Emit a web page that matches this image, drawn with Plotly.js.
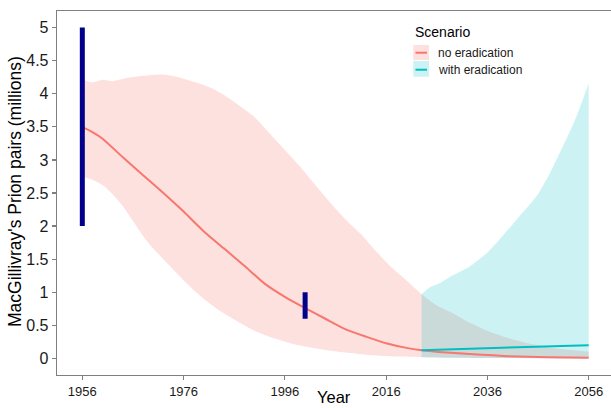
<!DOCTYPE html>
<html>
<head>
<meta charset="utf-8">
<script src="https://cdn.plot.ly/plotly-3.0.1.min.js"></script>
<style>
html,body{margin:0;padding:0;overflow:hidden;background:#fff;}
#chart{width:620px;height:408px;}
</style>
</head>
<body>
<div id="chart"></div>
<script>
// ---- data ----
// No eradication scenario
const noYearsMed = [1956,1958,1960,1964,1968,1972,1976,1980,1984,1988,1992,1996,2000,2004,2008,2012,2016,2020,2023,2028,2034,2040,2048,2056];
const noMedian   = [3.50,3.42,3.32,3.04,2.77,2.50,2.22,1.92,1.66,1.40,1.13,0.93,0.76,0.60,0.44,0.33,0.23,0.16,0.125,0.09,0.06,0.035,0.02,0.01];

const noYearsUp  = [1956,1958,1960,1962,1965,1968,1972,1975,1978,1981,1984,1987,1990,1993,1996,1999,2002,2005,2008,2011,2014,2017,2020,2023,2026,2029,2032,2036,2040,2044,2048,2052,2056];
const noUpper    = [4.22,4.17,4.21,4.19,4.24,4.27,4.29,4.25,4.18,4.10,3.98,3.82,3.65,3.40,3.15,2.90,2.62,2.35,2.10,1.88,1.62,1.38,1.18,0.97,0.80,0.69,0.56,0.42,0.31,0.23,0.17,0.13,0.10];

const noYearsLo  = [1956,1958,1960,1962,1964,1966,1968,1970,1972,1974,1976,1978,1980,1983,1986,1990,1994,1998,2003,2008,2013,2018,2023,2030,2040,2056];
const noLower    = [2.75,2.70,2.62,2.48,2.30,2.08,1.85,1.66,1.50,1.34,1.18,1.03,0.90,0.73,0.59,0.42,0.30,0.21,0.14,0.09,0.05,0.03,0.02,0.01,0.005,0.002];

// With eradication scenario
const wYearsMed  = [2023,2030,2040,2050,2056];
const wMedian    = [0.125,0.14,0.165,0.19,0.20];

const wYearsUp   = [2023,2024.5,2026.6,2029,2032.5,2036,2039,2042,2045.7,2048,2050.3,2052,2053.6,2056];
const wUpper     = [0.97,1.07,1.14,1.25,1.39,1.60,1.85,2.12,2.45,2.75,3.11,3.38,3.66,4.16];

const wYearsLo   = [2023,2030,2040,2056];
const wLower     = [0.02,0.012,0.006,0.003];

// Historical estimates (vertical bars)
const estYears = [1956, 2000];
const estLow   = [2.0, 0.6];
const estHigh  = [5.0, 1.0];

const xTicks = [1956,1976,1996,2016,2036,2056];
const yTicks = [0,0.5,1,1.5,2,2.5,3,3.5,4,4.5,5];
const yTickText = ['0','0.5','1','1.5','2','2.5','3','3.5','4','4.5','5'];

const scenarioNames = ['no eradication','with eradication'];
const lineColors = ['#F8766D','#00BFC4'];
const fillColors = ['rgba(248,118,109,0.22)','rgba(0,191,196,0.2)'];

const FONT = 'Liberation Sans, Arial, sans-serif';

// ---- traces ----
const traces = [];
function ribbon(xl, yl, xu, yu, fc){
  traces.push({x: xl, y: yl, type:'scatter', mode:'lines',
    line:{width:0, color:'rgba(0,0,0,0)', shape:'spline', smoothing:0.6}, hoverinfo:'skip', showlegend:false});
  traces.push({x: xu, y: yu, type:'scatter', mode:'lines', fill:'tonexty',
    fillcolor: fc, line:{width:0, color:'rgba(0,0,0,0)', shape:'spline', smoothing:0.6}, hoverinfo:'skip', showlegend:false});
}
ribbon(noYearsLo, noLower, noYearsUp, noUpper, fillColors[0]);
ribbon(wYearsLo, wLower, wYearsUp, wUpper, fillColors[1]);

traces.push({x: noYearsMed, y: noMedian, type:'scatter', mode:'lines',
  line:{color: lineColors[0], width:2, shape:'spline', smoothing:0.6}, name: scenarioNames[0], showlegend:false});
traces.push({x: wYearsMed, y: wMedian, type:'scatter', mode:'lines',
  line:{color: lineColors[1], width:2}, name: scenarioNames[1], showlegend:false});

for (let i = 0; i < estYears.length; i++){
  traces.push({x:[estYears[i], estYears[i]], y:[estLow[i], estHigh[i]], type:'scatter', mode:'lines',
    line:{color:'#00008B', width:5}, showlegend:false, hoverinfo:'skip'});
}

// ---- manual legend (ggplot-style keys) ----
const L = {x0:0.6397, x1:0.6679, lx0:0.6436, lx1:0.6643, tx:0.6804};
const keyRows = [{y0:0.8654, y1:0.9066, ly:0.8854}, {y0:0.8195, y1:0.8626, ly:0.8387}];
const shapes = [];
const annotations = [{xref:'paper', yref:'paper', x:0.6391, y:0.9423, xanchor:'left', yanchor:'middle',
  text:'Scenario', showarrow:false, font:{size:14, color:'#000', family:FONT}}];
keyRows.forEach((r, i) => {
  shapes.push({type:'rect', xref:'paper', yref:'paper', x0:L.x0, x1:L.x1, y0:r.y0, y1:r.y1,
    fillcolor: fillColors[i], line:{width:0}});
  shapes.push({type:'line', xref:'paper', yref:'paper', x0:L.lx0, x1:L.lx1, y0:r.ly, y1:r.ly,
    line:{color: lineColors[i], width:2}});
  annotations.push({xref:'paper', yref:'paper', x:L.tx, y:r.ly, xanchor:'left', yanchor:'middle',
    text: scenarioNames[i], showarrow:false, font:{size:12, color:'#1a1a1a', family:FONT}});
});
// axis titles
annotations.push({xref:'paper', yref:'paper', x:(334-57)/557, y:(375-397)/364, xanchor:'center', yanchor:'middle',
  text:'Year', showarrow:false, font:{size:16.5, color:'#000', family:FONT}});
annotations.push({xref:'paper', yref:'paper', x:(15-57)/557, y:(375-192)/364, xanchor:'center', yanchor:'middle',
  textangle:-90, text:"MacGillivray's Prion pairs (millions)", showarrow:false, font:{size:17.5, color:'#000', family:FONT}});

const layout = {
  width: 620, height: 408,
  margin: {l:57, r:6, t:11, b:33},
  paper_bgcolor:'#fff', plot_bgcolor:'#fff',
  font: {family:FONT, color:'#1a1a1a'},
  showlegend:false,
  xaxis: {
    range:[1951, 2061], tickvals: xTicks, ticktext: xTicks.map(String),
    showgrid:false, zeroline:false, showline:true, mirror:true, linecolor:'#7f7f7f', linewidth:1.3,
    ticks:'outside', ticklen:4, tickcolor:'#7f7f7f', tickwidth:1.2,
    tickfont:{size:13, color:'#1a1a1a'}, automargin:false
  },
  yaxis: {
    range:[-0.25, 5.25], tickvals: yTicks, ticktext: yTickText,
    showgrid:false, zeroline:false, showline:true, mirror:true, linecolor:'#7f7f7f', linewidth:1.3,
    ticks:'outside', ticklen:4, tickcolor:'#7f7f7f', tickwidth:1.2,
    tickfont:{size:16, color:'#1a1a1a'}, automargin:false
  },
  shapes: shapes,
  annotations: annotations
};

Plotly.newPlot('chart', traces, layout, {staticPlot:true, displayModeBar:false});
</script>
</body>
</html>
